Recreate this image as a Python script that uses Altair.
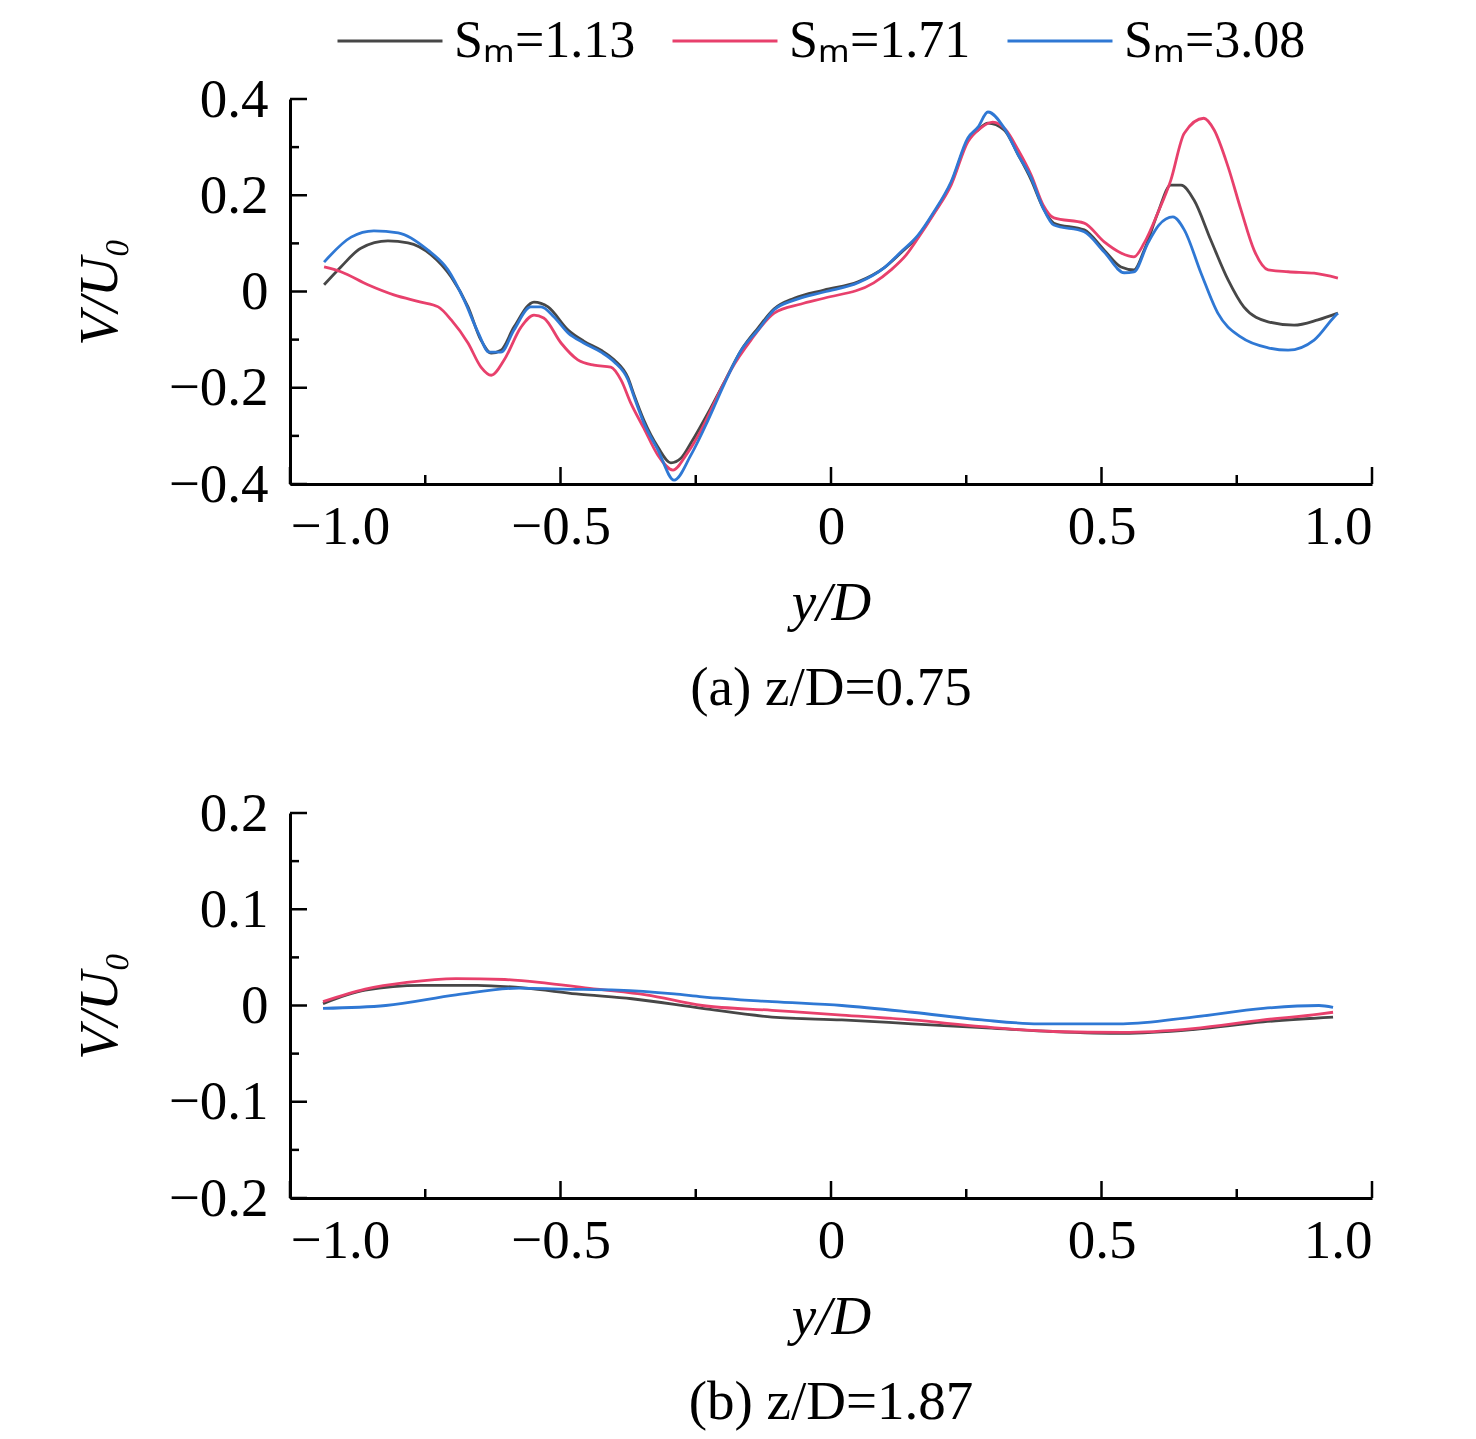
import altair as alt
import pandas as pd

SERIES = ["Sₘ=1.13", "Sₘ=1.71", "Sₘ=3.08"]
COLORS = ["#474747", "#e8406c", "#2f78d4"]
FONT = "Liberation Serif"

# ---- panel (a) z/D = 0.75 ----
a_x_113 = [-0.937,-0.906,-0.869,-0.819,-0.782,-0.739,-0.702,-0.671,-0.647,-0.628,
           -0.610,-0.586,-0.549,-0.523,-0.486,-0.457,-0.425,-0.401,-0.375,-0.364,
           -0.346,-0.320,-0.296,-0.277,-0.259,-0.227,-0.198,-0.166,-0.135,-0.105,
           -0.068,-0.013,0.050,0.098,0.129,0.161,0.190,0.222,0.253,0.272,
           0.290,0.320,0.346,0.370,0.392,0.412,0.468,0.505,0.536,0.560,
           0.579,0.604,0.628,0.647,0.671,0.702,0.734,0.763,0.808,0.856,0.900,0.937]
a_y_113 = [0.014,0.051,0.090,0.105,0.101,0.076,0.030,-0.032,-0.101,-0.128,
           -0.122,-0.074,-0.022,-0.032,-0.080,-0.103,-0.122,-0.142,-0.180,-0.215,
           -0.267,-0.323,-0.356,-0.346,-0.315,-0.252,-0.190,-0.122,-0.076,-0.036,
           -0.014,0.003,0.020,0.049,0.080,0.115,0.163,0.225,0.315,0.336,
           0.350,0.336,0.284,0.232,0.174,0.142,0.128,0.086,0.051,0.045,
           0.086,0.163,0.221,0.221,0.190,0.107,0.024,-0.032,-0.063,-0.070,-0.059,-0.045]

a_x_171 = [-0.937,-0.906,-0.856,-0.808,-0.758,-0.726,-0.702,-0.671,-0.647,-0.628,
           -0.604,-0.573,-0.549,-0.531,-0.499,-0.468,-0.438,-0.407,-0.388,-0.370,
           -0.346,-0.320,-0.292,-0.268,-0.240,-0.213,-0.185,-0.148,-0.105,-0.055,
           -0.013,0.079,0.111,0.139,0.161,0.190,0.222,0.253,0.277,0.299,
           0.323,0.346,0.370,0.392,0.412,0.468,0.505,0.536,0.560,0.579,
           0.604,0.628,0.653,0.689,0.708,0.734,0.758,0.782,0.808,0.845,0.893,0.937]
a_y_171 = [0.051,0.041,0.014,-0.007,-0.022,-0.032,-0.059,-0.107,-0.157,-0.174,
           -0.142,-0.074,-0.049,-0.055,-0.107,-0.142,-0.153,-0.157,-0.184,-0.232,
           -0.284,-0.340,-0.371,-0.340,-0.288,-0.225,-0.163,-0.101,-0.045,-0.026,
           -0.014,0.018,0.045,0.076,0.111,0.161,0.221,0.311,0.340,0.352,
           0.336,0.294,0.242,0.180,0.153,0.142,0.103,0.080,0.072,0.101,
           0.163,0.231,0.329,0.360,0.336,0.259,0.169,0.086,0.045,0.041,0.038,0.028]

a_x_308 = [-0.937,-0.887,-0.845,-0.800,-0.745,-0.708,-0.678,-0.652,-0.632,-0.610,
           -0.586,-0.555,-0.536,-0.512,-0.486,-0.457,-0.425,-0.401,-0.375,-0.364,
           -0.346,-0.320,-0.290,-0.259,-0.227,-0.198,-0.166,-0.135,-0.105,-0.068,
           -0.013,0.050,0.098,0.129,0.161,0.190,0.222,0.253,0.272,0.290,
           0.320,0.346,0.370,0.392,0.412,0.468,0.505,0.542,0.560,0.586,
           0.606,0.632,0.653,0.684,0.715,0.758,0.808,0.845,0.893,0.930,0.937]
a_y_308 = [0.061,0.113,0.126,0.122,0.086,0.045,-0.018,-0.086,-0.126,-0.126,
           -0.080,-0.032,-0.032,-0.053,-0.086,-0.107,-0.126,-0.146,-0.184,-0.219,
           -0.273,-0.329,-0.392,-0.340,-0.267,-0.194,-0.122,-0.080,-0.038,-0.018,
           -0.001,0.018,0.049,0.082,0.117,0.165,0.228,0.319,0.342,0.373,
           0.340,0.284,0.236,0.174,0.138,0.124,0.082,0.039,0.041,0.101,
           0.138,0.155,0.128,0.038,-0.045,-0.095,-0.117,-0.122,-0.101,-0.053,-0.045]

# ---- panel (b) z/D = 1.87 ----
b_x_113 = [-0.939,-0.861,-0.758,-0.654,-0.564,-0.471,-0.368,-0.238,-0.109,0.020,
           0.150,0.279,0.410,0.540,0.669,0.799,0.928]
b_y_113 = [0.002,0.016,0.021,0.021,0.018,0.012,0.007,-0.003,-0.012,-0.015,
           -0.019,-0.023,-0.027,-0.029,-0.025,-0.017,-0.012]

b_x_171 = [-0.939,-0.861,-0.784,-0.693,-0.603,-0.523,-0.433,-0.342,-0.238,-0.109,
           0.020,0.150,0.279,0.410,0.540,0.669,0.799,0.902,0.928]
b_y_171 = [0.004,0.017,0.024,0.028,0.027,0.023,0.017,0.011,0.000,-0.005,
           -0.010,-0.015,-0.022,-0.027,-0.028,-0.024,-0.015,-0.009,-0.007]

b_x_308 = [-0.939,-0.823,-0.693,-0.577,-0.497,-0.394,-0.290,-0.238,-0.109,0.020,
           0.150,0.279,0.384,0.540,0.669,0.799,0.902,0.928]
b_y_308 = [-0.003,0.000,0.011,0.018,0.017,0.016,0.012,0.009,0.004,0.000,
           -0.007,-0.015,-0.019,-0.019,-0.012,-0.003,0.000,-0.002]

X_MAJOR = [-1.0, -0.5, 0.0, 0.5, 1.0]
X_MINOR = [-0.75, -0.25, 0.25, 0.75]
A_Y_MAJOR = [-0.4, -0.2, 0.0, 0.2, 0.4]
A_Y_MINOR = [-0.3, -0.1, 0.1, 0.3]
B_Y_MAJOR = [-0.2, -0.1, 0.0, 0.1, 0.2]
B_Y_MINOR = [-0.15, -0.05, 0.05, 0.15]

W, H = 1082, 385
MAJ, MIN = 17, 9
FS = 55
LABEL_EXPR = "datum.value == 0 ? '0' : replace(format(datum.value, '.1f'), '-', '\u2212')"


def frame(xs_list, ys_list):
    rows = []
    for name, xs, ys in zip(SERIES, xs_list, ys_list):
        for i, (xv, yv) in enumerate(zip(xs, ys)):
            rows.append({"x": xv, "y": yv, "series": name, "i": i})
    return pd.DataFrame(rows)


def panel(df, ydom, ymaj, ymin, subtitle, legend):
    color = alt.Color(
        "series:N",
        scale=alt.Scale(domain=SERIES, range=COLORS),
        legend=legend,
    )
    lines = alt.Chart(df).mark_line(strokeWidth=2.8, interpolate="monotone").encode(
        x=alt.X("x:Q", scale=alt.Scale(domain=[-1, 1], nice=False, zero=False),
                axis=alt.Axis(values=X_MAJOR, ticks=False, grid=False, title="y/D",
                              labelExpr=LABEL_EXPR, labelPadding=16,
                              titleFontStyle="italic", titlePadding=22)),
        y=alt.Y("y:Q", scale=alt.Scale(domain=ydom, nice=False, zero=False),
                axis=alt.Axis(values=ymaj, ticks=False, grid=False, title="V/U₀",
                              labelExpr=LABEL_EXPR, labelPadding=22,
                              titleFontStyle="italic", titlePadding=40)),
        color=color,
        order="i:Q",
    )
    yt_maj = alt.Chart(pd.DataFrame({"v": ymaj})).mark_rule(color="black", strokeWidth=2.5).encode(
        y=alt.Y("v:Q"), x=alt.value(0), x2=alt.value(MAJ))
    yt_min = alt.Chart(pd.DataFrame({"v": ymin})).mark_rule(color="black", strokeWidth=2.5).encode(
        y=alt.Y("v:Q"), x=alt.value(0), x2=alt.value(MIN))
    xt_maj = alt.Chart(pd.DataFrame({"v": X_MAJOR})).mark_rule(color="black", strokeWidth=2.5).encode(
        x=alt.X("v:Q"), y=alt.value(H), y2=alt.value(H - MAJ))
    xt_min = alt.Chart(pd.DataFrame({"v": X_MINOR})).mark_rule(color="black", strokeWidth=2.5).encode(
        x=alt.X("v:Q"), y=alt.value(H), y2=alt.value(H - MIN))
    return alt.layer(lines, yt_maj, yt_min, xt_maj, xt_min).properties(
        width=W, height=H,
        title=alt.TitleParams(subtitle, orient="bottom", font=FONT, fontSize=FS,
                              fontWeight="normal", color="black", offset=32),
    )


legend = alt.Legend(
    title=None, orient="none", legendX=72, legendY=-86, direction="horizontal",
    symbolType="M-2,0L2,0", symbolSize=2756, symbolStrokeWidth=2.8,
    labelFont=FONT, labelFontSize=52, labelColor="black", labelOffset=36,
    labelLimit=400, columnPadding=30, symbolOpacity=1,
)

top = panel(frame([a_x_113, a_x_171, a_x_308], [a_y_113, a_y_171, a_y_308]),
            [-0.4, 0.4], A_Y_MAJOR, A_Y_MINOR, "(a) z/D=0.75", legend)
bottom = panel(frame([b_x_113, b_x_171, b_x_308], [b_y_113, b_y_171, b_y_308]),
               [-0.2, 0.2], B_Y_MAJOR, B_Y_MINOR, "(b) z/D=1.87", None)

chart = alt.vconcat(top, bottom, spacing=70).properties(
    padding={"left": 64, "top": 5, "right": 5, "bottom": 5},
    background="white",
).configure_view(stroke=None).configure_axis(
    domainColor="black", domainWidth=3,
    labelFont=FONT, labelFontSize=FS, labelColor="black",
    titleFont=FONT, titleFontSize=FS, titleColor="black", titleFontWeight="normal",
)

chart.save("out.html", embed_options={"renderer": "svg", "actions": False})
